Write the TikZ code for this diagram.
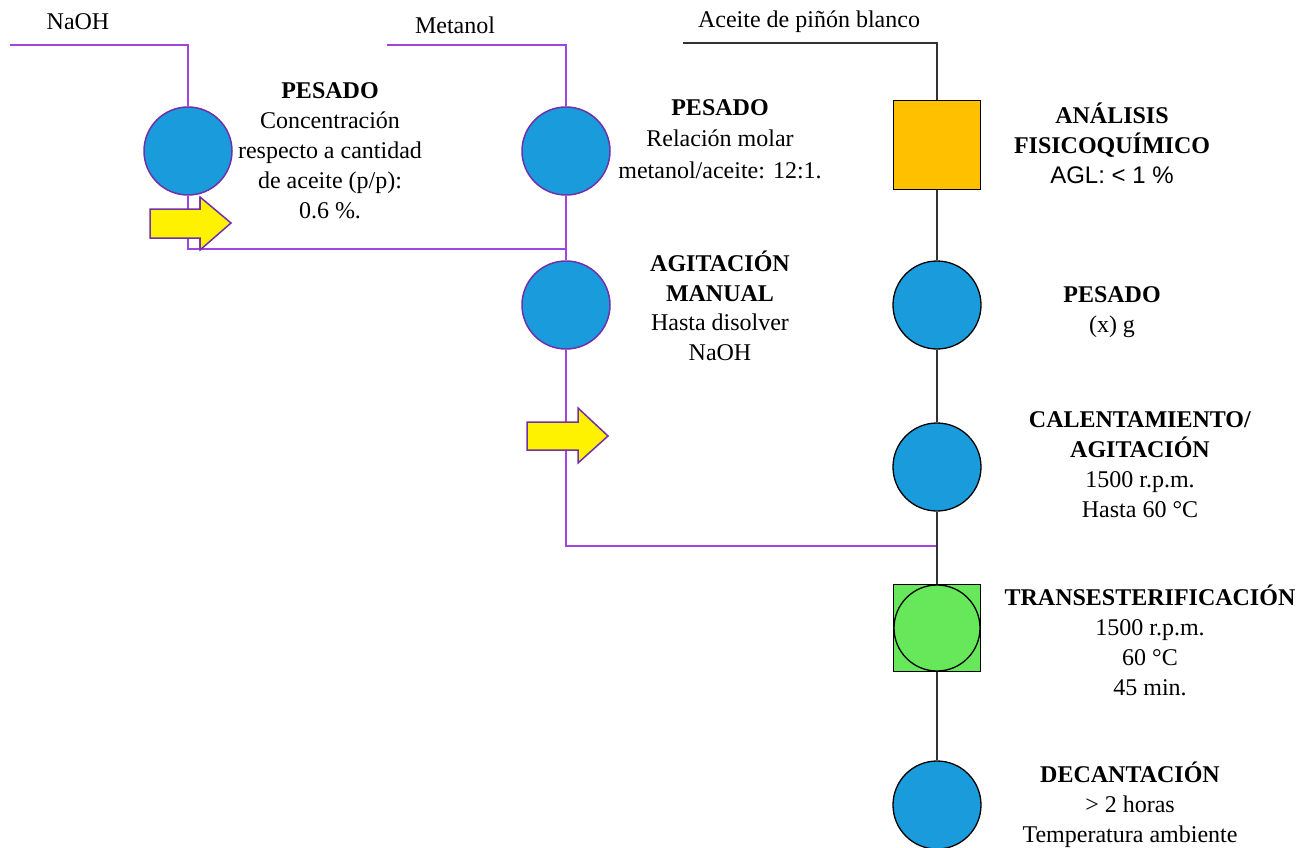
\documentclass[tikz,border=0pt]{standalone}
\usepackage{fontspec}
\setmainfont{Liberation Serif}
\newfontfamily\arialf{Liberation Sans}
\usetikzlibrary{positioning}
\definecolor{procblue}{RGB}{26,156,220}
\definecolor{lineviolet}{RGB}{160,70,220}
\definecolor{edgeviolet}{RGB}{112,48,170}
\definecolor{boxorange}{RGB}{255,192,0}
\definecolor{boxgreen}{RGB}{102,232,90}
\begin{document}
\begin{tikzpicture}[x=1pt,y=-1pt,
  opv/.style={circle, minimum size=88pt, inner sep=0pt, fill=procblue, draw=edgeviolet, line width=1.5pt},
  opk/.style={circle, minimum size=88pt, inner sep=0pt, fill=procblue, draw=black, line width=1.3pt},
  ibox/.style={rectangle, minimum width=87pt, minimum height=89pt, inner sep=0pt, draw=black, line width=1.5pt},
  lab/.style={align=center, inner sep=0pt, font=\fontsize{24}{30}\selectfont},
  flab/.style={inner sep=0pt, font=\fontsize{24}{30}\selectfont},
  vline/.style={draw=lineviolet, line width=1.8pt},
  kline/.style={draw=black!80, line width=1.8pt},
  yarrow/.style={fill=yellow, draw=edgeviolet, line width=1.5pt, line join=miter}]
\useasboundingbox (0,0) rectangle (1304,848);

% process symbols
\node[opv] (c1) at (188,151) {};
\node[opv] (c2) at (566,151) {};
\node[opv] (c3) at (566,305) {};
\node[ibox, fill=boxorange] (b1) at (937,145) {};
\node[opk] (c4) at (937,305) {};
\node[opk] (c5) at (937,467) {};
\node[ibox, fill=boxgreen, minimum height=87pt] (b2) at (937,628) {};
\node[opk, fill=boxgreen, minimum size=86pt] (c6) at (937,628) {};
\node[opk] (c7) at (937,805) {};

% feed labels
\node[flab] (naoh) at (78,22) {NaOH};
\node[flab] (met) at (455,25) {Metanol};
\node[flab] (ace) at (809,22) {Aceite de piñón blanco};

% step labels
\node[lab] (t1) at (330,151) {\textbf{PESADO}\\Concentración\\respecto a cantidad\\de aceite (p/p):\\0.6 \%.};
\node[lab, font=\fontsize{24}{31.5}\selectfont] (t2) at (720,139) {\textbf{PESADO}\\Relación molar\\metanol/aceite: 12:1.};
\node[lab, font=\fontsize{24}{29.5}\selectfont] (t3) at (720,306) {\textbf{AGITACIÓN}\\\textbf{MANUAL}\\Hasta disolver\\NaOH};
\node[lab] (t4) at (1112,143) {\textbf{ANÁLISIS}\\\textbf{FISICOQUÍMICO}\\{\arialf AGL: < 1 \%}};
\node[lab] (t5) at (1112,312) {\textbf{PESADO}\\(x) g};
\node[lab] (t6) at (1140,465) {\textbf{CALENTAMIENTO/}\\\textbf{AGITACIÓN}\\1500 r.p.m.\\Hasta 60 °C};
\node[lab] (t7) at (1150,640) {\textbf{TRANSESTERIFICACIÓN}\\1500 r.p.m.\\60 °C\\45 min.};
\node[lab] (t8) at (1130,805) {\textbf{DECANTACIÓN}\\> 2 horas\\Temperatura ambiente};

% routing points
\coordinate (naohS) at (10,45);
\coordinate (naohK) at (188,45);
\coordinate (metS) at (387,45);
\coordinate (metK) at (566,45);
\coordinate (aceS) at (683,43);
\coordinate (aceK) at (937,43);
\coordinate (j1) at (188,249);
\coordinate (j1t) at (200,197);
\coordinate (j1b) at (200,249);
\coordinate (j2) at (566,249);
\coordinate (j3) at (566,546);
\coordinate (j4) at (937,546);

% violet lines
\draw[vline] (naohS) -- (naohK) -- (c1.north);
\draw[vline] (metS) -- (metK) -- (c2.north);
\draw[vline] (c1.south) -- (j1) -- (j2);
\draw[vline] (j1t) -- (j1b);
\draw[vline] (c2.south) -- (c3.north);
\draw[vline] (c3.south) -- (j3) -- (j4);

% black lines
\draw[kline] (aceS) -- (aceK) -- (b1.north);
\draw[kline] (b1.south) -- (c4.north);
\draw[kline] (c4.south) -- (c5.north);
\draw[kline] (c5.south) -- (b2.north);
\draw[kline] (b2.south) -- (c7.north);

% yellow block arrows
\draw[yarrow] (150,209) -- (200,209) -- (200,197) -- (231,223) -- (200,250) -- (200,238) -- (150,238) -- cycle;
\draw[yarrow] (527,422) -- (578,422) -- (578,408) -- (608,436) -- (578,463) -- (578,450) -- (527,450) -- cycle;
\end{tikzpicture}
\end{document}
